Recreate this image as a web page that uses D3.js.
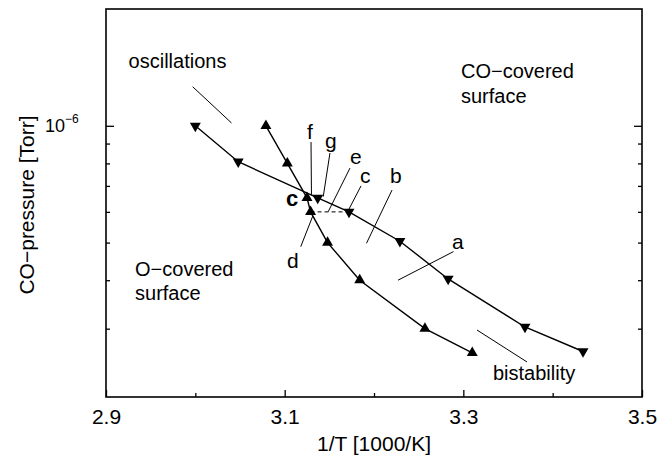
<!DOCTYPE html>
<html>
<head>
<meta charset="utf-8">
<script src="https://cdn.jsdelivr.net/npm/d3@7"></script>
<style>
  html, body { margin: 0; padding: 0; background: #fff; }
  svg { display: block; font-family: "Liberation Sans", Arial, Helvetica, sans-serif; }
</style>
</head>
<body>
<svg id="chart" width="670" height="457"></svg>
<script>
// ---- data ----
// series drawn with upward triangles (1/T in 1000/K, CO pressure in Torr)
const upX = [3.079, 3.103, 3.125, 3.129, 3.148, 3.184, 3.257, 3.310];
const upP = [1.0e-6, 8.0e-7, 6.52e-7, 6.0e-7, 5.0e-7, 4.0e-7, 3.0e-7, 2.6e-7];
// series drawn with downward triangles
const downX = [3.000, 3.048, 3.137, 3.172, 3.229, 3.283, 3.369, 3.434];
const downP = [1.0e-6, 8.08e-7, 6.52e-7, 6.0e-7, 5.04e-7, 4.03e-7, 3.03e-7, 2.62e-7];
// dashed connector between the two series (index into up / down)
const dashedPair = [3, 3];

// axes
const xDomain = [2.9, 3.5];
const yDomain = [2e-7, 2e-6];
const xMajorTicks = [2.9, 3.1, 3.3, 3.5];
const xTickLabels = ["2.9", "3.1", "3.3", "3.5"];
const xMinorTicks = [3.0, 3.2, 3.4];
const yMajorTicks = [1e-6];
const yMinorTicks = [9e-7, 8e-7, 7e-7, 6e-7, 5e-7, 4e-7, 3e-7];
const xTitle = "1/T [1000/K]";
const yTitle = "CO\u2212pressure [Torr]";

// annotations: text at [x, p] (data units), leader lines [x1, p1, x2, p2]
const labelTexts = ["oscillations", "CO\u2212covered", "surface", "O\u2212covered", "surface", "bistability",
                    "a", "b", "c", "e", "g", "f", "d"];
const labelX = [2.9253, 3.2974, 3.2974, 2.9325, 2.9325, 3.3332, 3.2873, 3.2179, 3.1843, 3.1731, 3.1451, 3.125, 3.1026];
const labelP = [1.409e-6, 1.329e-6, 1.145e-6, 4.10e-7, 3.556e-7, 2.21e-7, 4.81e-7, 7.12e-7, 7.12e-7, 7.97e-7, 8.76e-7, 9.25e-7, 4.30e-7];
const boldLabel = "c";
const boldLabelPos = [3.1015, 6.21e-7];
const leaderNames = ["oscillations", "bistability", "a", "b", "c", "e", "g", "f", "d"];
const leaderX1 = [2.997, 3.3153, 3.2269, 3.1916, 3.172, 3.1488, 3.1432, 3.130, 3.118];
const leaderP1 = [1.261e-6, 2.976e-7, 4.00e-7, 4.98e-7, 6.10e-7, 6.01e-7, 6.57e-7, 6.63e-7, 4.88e-7];
const leaderX2 = [3.0405, 3.3713, 3.2890, 3.2202, 3.1855, 3.1731, 3.1507, 3.1295, 3.1314];
const leaderP2 = [1.017e-6, 2.462e-7, 4.74e-7, 6.83e-7, 7.00e-7, 7.78e-7, 8.51e-7, 9.08e-7, 5.85e-7];

// ---- layout ----
const W = 670, H = 457;
const m = { left: 106, right: 670 - 642, top: 9, bottom: 457 - 397 };
const svg = d3.select("#chart");
svg.append("rect").attr("width", W).attr("height", H).attr("fill", "#fff");

const x = d3.scaleLinear().domain(xDomain).range([m.left, W - m.right]);
const y = d3.scaleLog().domain(yDomain).range([H - m.bottom, m.top]);

const FS = 21;

// axes (inward ticks)
const gxMaj = svg.append("g").attr("transform", `translate(0,${H - m.bottom})`)
  .call(d3.axisBottom(x).tickValues(xMajorTicks).tickSize(-7).tickPadding(12)
        .tickFormat((d, i) => xTickLabels[i]));
const gxMin = svg.append("g").attr("transform", `translate(0,${H - m.bottom})`)
  .call(d3.axisBottom(x).tickValues(xMinorTicks).tickSize(-4).tickFormat(""));
const gyL = svg.append("g").attr("transform", `translate(${m.left},0)`)
  .call(d3.axisLeft(y).tickValues(yMajorTicks).tickSize(-8).tickFormat(""));
const gyLm = svg.append("g").attr("transform", `translate(${m.left},0)`)
  .call(d3.axisLeft(y).tickValues(yMinorTicks).tickSize(-4).tickFormat(""));
const gyR = svg.append("g").attr("transform", `translate(${W - m.right},0)`)
  .call(d3.axisRight(y).tickValues(yMajorTicks).tickSize(-8).tickFormat(""));
const gyRm = svg.append("g").attr("transform", `translate(${W - m.right},0)`)
  .call(d3.axisRight(y).tickValues(yMinorTicks).tickSize(-4).tickFormat(""));
[gxMaj, gxMin, gyL, gyLm, gyR, gyRm].forEach(g => {
  g.select(".domain").remove();
  g.selectAll(".tick line").attr("stroke", "#000").attr("stroke-width", 1.3);
  g.selectAll("text").attr("font-size", FS).attr("fill", "#000")
    .attr("font-family", "\"Liberation Sans\", Arial, sans-serif");
});

// y major label 10^-6
yMajorTicks.forEach(v => {
  const t = svg.append("text").attr("x", 45).attr("y", y(v) + 6)
    .attr("font-size", 18).attr("fill", "#000");
  t.append("tspan").text("10");
  t.append("tspan").attr("font-size", 12).attr("dy", -9).text("\u22126");
});

// frame
svg.append("rect").attr("x", m.left).attr("y", m.top)
  .attr("width", W - m.left - m.right).attr("height", H - m.top - m.bottom)
  .attr("fill", "none").attr("stroke", "#000").attr("stroke-width", 1.6);

// axis titles
svg.append("text").attr("x", (m.left + W - m.right) / 2).attr("y", 451)
  .attr("text-anchor", "middle").attr("font-size", FS).text(xTitle);
svg.append("text").attr("transform", `translate(34,${(m.top + H - m.bottom) / 2 + 2}) rotate(-90)`)
  .attr("text-anchor", "middle").attr("font-size", FS).text(yTitle);

// leader lines
const gLead = svg.append("g").attr("stroke", "#000").attr("stroke-width", 1);
leaderNames.forEach((n, i) => {
  gLead.append("line")
    .attr("x1", x(leaderX1[i])).attr("y1", y(leaderP1[i]))
    .attr("x2", x(leaderX2[i])).attr("y2", y(leaderP2[i]));
});

// dashed connector
svg.append("line")
  .attr("x1", x(upX[dashedPair[0]])).attr("y1", y(upP[dashedPair[0]]))
  .attr("x2", x(downX[dashedPair[1]])).attr("y2", y(downP[dashedPair[1]]))
  .attr("stroke", "#000").attr("stroke-width", 1).attr("stroke-dasharray", "4,3");

// series lines
const line = d3.line().x(d => x(d[0])).y(d => y(d[1]));
const upData = upX.map((v, i) => [v, upP[i]]);
const downData = downX.map((v, i) => [v, downP[i]]);
[upData, downData].forEach(d => {
  svg.append("path").datum(d).attr("d", line)
    .attr("fill", "none").attr("stroke", "#000").attr("stroke-width", 1.4);
});

// markers
const tri = d3.symbol().type(d3.symbolTriangle).size(52);
svg.append("g").selectAll("path").data(upData).join("path")
  .attr("d", tri).attr("fill", "#000")
  .attr("transform", d => `translate(${x(d[0])},${y(d[1])})`);
svg.append("g").selectAll("path").data(downData).join("path")
  .attr("d", tri).attr("fill", "#000")
  .attr("transform", d => `translate(${x(d[0])},${y(d[1])}) rotate(180)`);

// annotation texts
labelTexts.forEach((t, i) => {
  const fs = t.length === 1 ? 21 : 20;
  svg.append("text").attr("x", x(labelX[i])).attr("y", y(labelP[i]))
    .attr("font-size", fs).attr("fill", "#000").text(t);
});
svg.append("text").attr("x", x(boldLabelPos[0])).attr("y", y(boldLabelPos[1]))
  .attr("font-size", 22).attr("font-weight", "bold").attr("fill", "#000").text(boldLabel);
</script>
</body>
</html>
